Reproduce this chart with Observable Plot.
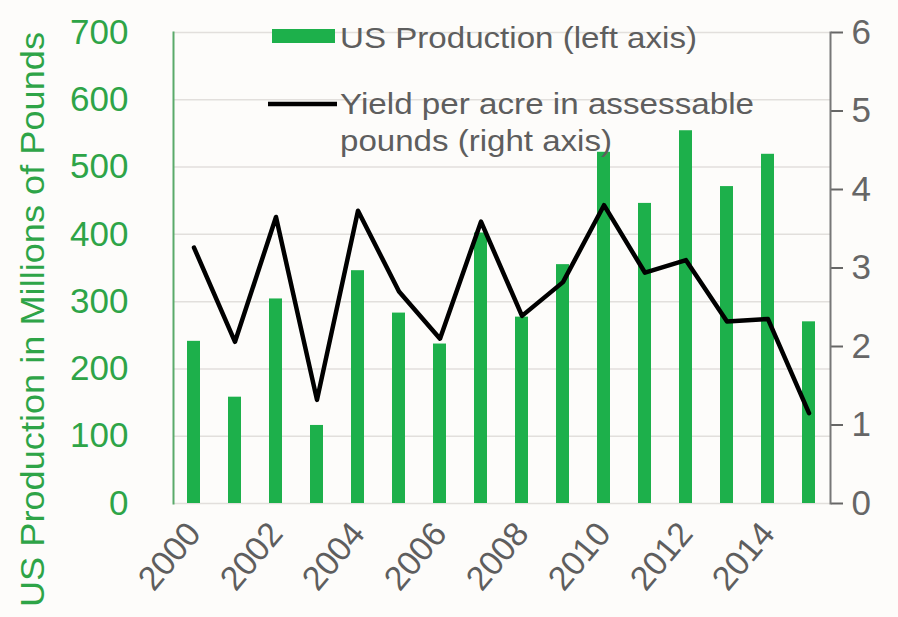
<!DOCTYPE html>
<html><head><meta charset="utf-8">
<script src="https://cdn.jsdelivr.net/npm/d3@7"></script>
<script src="https://cdn.jsdelivr.net/npm/@observablehq/plot@0.6"></script>
<style>
body{margin:0;background:#fdfcfa;}
#chart{position:relative;width:898px;height:617px;}
</style>
</head><body><div id="chart"></div>
<script>
const years = [2000,2001,2002,2003,2004,2005,2006,2007,2008,2009,2010,2011,2012,2013,2014,2015];
const production = [241,158,304,116,346,283,237,402,277,355,522,446,554,471,519,270];
const yieldPerAcre = [3.26,2.06,3.65,1.32,3.73,2.70,2.10,3.59,2.39,2.82,3.80,2.94,3.10,2.32,2.35,1.15];
const leftTicks = [0,100,200,300,400,500,600,700];
const rightTicks = [0,1,2,3,4,5,6];
const xTickYears = [2000,2002,2004,2006,2008,2010,2012,2014];
const yLabel = "US Production in Millions of Pounds";
const legendProduction = "US Production (left axis)";
const legendYield1 = "Yield per acre in assessable";
const legendYield2 = "pounds (right axis)";

const green = "#1db04b";
const greenText = "#2ea447";
const gray = "#5e5e5e";

const data = years.map((year, i) => ({year, production: production[i], yield: yieldPerAcre[i]}));
const y2 = d3.scaleLinear([0, 6], [0, 700]);

const plot = Plot.plot({
  width: 898, height: 617,
  marginLeft: 173, marginRight: 68, marginTop: 32, marginBottom: 114,
  style: {fontFamily: "'Liberation Sans', Arial, sans-serif", background: "transparent", overflow: "visible"},
  x: {type: "band", domain: years, paddingInner: 0.68, paddingOuter: 0.34},
  y: {domain: [0, 700]},
  marks: [
    Plot.gridY(leftTicks, {stroke: "#e2dfdc", strokeOpacity: 1, strokeWidth: 1.5}),
    Plot.barY(data, {x: "year", y: "production", fill: green}),
    Plot.lineY(data, {x: "year", y: d => y2(d.yield), stroke: "#000", strokeWidth: 4.5}),
    Plot.axisY(leftTicks, {anchor: "left", tickSize: 0, tickPadding: 45, fontSize: 35, color: greenText, label: null}),
    Plot.axisY(rightTicks, {anchor: "right", y: y2, tickSize: 12, tickPadding: 9, fontSize: 35, color: "#666", label: null, strokeWidth: 2}),
    Plot.axisX(xTickYears, {tickRotate: -50, tickSize: 0, tickPadding: 24, fontSize: 34, color: gray, label: null, tickFormat: d => String(d)}),
    Plot.frame({anchor: "left", stroke: "#5aaa6a", strokeWidth: 2}),
    Plot.frame({anchor: "right", stroke: "#777", strokeWidth: 2})
  ]
});
document.getElementById("chart").appendChild(plot);

const svg = d3.select(plot);
svg.append("text")
  .attr("transform", "translate(44,607) rotate(-90)")
  .attr("text-anchor", "start")
  .attr("fill", greenText).attr("font-size", 33)
  .attr("textLength", 575).attr("lengthAdjust", "spacingAndGlyphs")
  .text(yLabel);

const lg = svg.append("g").attr("font-size", 30).attr("fill", gray).attr("text-anchor", "start");
lg.append("rect").attr("x", 272).attr("y", 29).attr("width", 63).attr("height", 14).attr("fill", green);
lg.append("text").attr("x", 340).attr("y", 48).attr("textLength", 357).attr("lengthAdjust", "spacingAndGlyphs").text(legendProduction);
lg.append("line").attr("x1", 268).attr("x2", 337).attr("y1", 104).attr("y2", 104).attr("stroke", "#000").attr("stroke-width", 4.5);
lg.append("text").attr("x", 340).attr("y", 114).attr("textLength", 414).attr("lengthAdjust", "spacingAndGlyphs").text(legendYield1);
lg.append("text").attr("x", 340).attr("y", 151).attr("textLength", 272).attr("lengthAdjust", "spacingAndGlyphs").text(legendYield2);
</script>
</body></html>
